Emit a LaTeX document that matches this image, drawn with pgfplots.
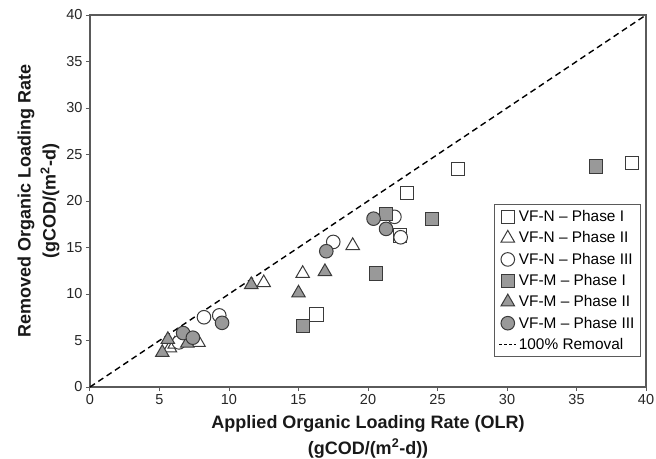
\documentclass[border=0pt]{standalone}
\usepackage{fontspec}
\setmainfont{Liberation Sans}
\usepackage{pgfplots}
\pgfplotsset{compat=1.18}
\definecolor{axgray}{HTML}{5A5A5A}
\definecolor{mgray}{HTML}{999999}
\definecolor{medge}{HTML}{3A3A3A}
\begin{document}
\begin{tikzpicture}
\begin{axis}[
  scale only axis, width=556pt, height=372pt,
  xmin=0, xmax=40, ymin=0, ymax=40,
  xtick={0,5,...,40}, ytick={0,5,...,40},
  tick align=outside, xtick pos=bottom, ytick pos=left,
  major tick length=4pt,
  axis line style={axgray, line width=1.3pt},
  tick style={axgray, line width=1pt},
  ticklabel style={font=\fontsize{14.5}{16}\selectfont, text=black!85},
  /pgf/number format/assume math mode=true,
  xlabel={Applied Organic Loading Rate (OLR)\\(gCOD/(m\textsuperscript{2}-d))},
  ylabel={Removed Organic Loading Rate\\(gCOD/(m\textsuperscript{2}-d)},
  xlabel style={font=\bfseries\fontsize{18}{25.5}\selectfont, align=center, text=black!90, yshift=-4pt},
  ylabel style={font=\bfseries\fontsize{18}{25}\selectfont, align=center, text=black!90},
  legend style={at={(rel axis cs:0.991,0.492)}, anchor=north east,
    draw=axgray, line width=1.2pt, font=\fontsize{15.4}{17}\selectfont,
    row sep=4.6pt, inner sep=4pt, legend cell align=left},
  clip=false,
]
\addplot[black, line width=1.4pt, dash pattern=on 6pt off 4pt, forget plot] coordinates {(0,0) (40,40)};

\addplot[only marks, mark=square*, mark size=6.6pt, mark options={fill=white, draw=medge, line width=1pt}] coordinates {
(16.3,7.8) (22.3,16.3) (22.8,20.9) (26.5,23.4) (39.0,24.1)};
\addlegendentry{VF-N -- Phase I}
\addplot[only marks, mark=triangle*, mark size=7.8pt, mark options={fill=white, draw=medge, line width=1pt}] coordinates {
(5.75,4.2) (6.1,4.6) (7.8,4.8) (12.5,11.2) (15.3,12.2) (18.9,15.2)};
\addlegendentry{VF-N -- Phase II}
\addplot[only marks, mark=*, mark size=6.8pt, mark options={fill=white, draw=medge, line width=1pt}] coordinates {
(6.4,4.8) (8.2,7.5) (9.3,7.7) (17.5,15.6) (21.9,18.3) (22.35,16.1)};
\addlegendentry{VF-N -- Phase III}
\addplot[only marks, mark=square*, mark size=6.6pt, mark options={fill=mgray, draw=medge, line width=1pt}] coordinates {
(15.3,6.6) (20.6,12.2) (21.3,18.6) (24.6,18.1) (36.4,23.7)};
\addlegendentry{VF-M -- Phase I}
\addplot[only marks, mark=triangle*, mark size=7.8pt, mark options={fill=mgray, draw=medge, line width=1pt}] coordinates {
(5.2,3.7) (5.6,5.1) (7.0,4.7) (11.6,11.0) (15.0,10.1) (16.9,12.4)};
\addlegendentry{VF-M -- Phase II}
\addplot[only marks, mark=*, mark size=6.8pt, mark options={fill=mgray, draw=medge, line width=1pt}] coordinates {
(6.7,5.8) (7.4,5.3) (9.5,6.9) (17.0,14.6) (20.4,18.1) (21.3,17.0)};
\addlegendentry{VF-M -- Phase III}
\addlegendimage{legend image code/.code={\draw[black, line width=1.2pt, dash pattern=on 3pt off 2pt] (0pt,0pt) -- (17pt,0pt);}}
\addlegendentry{100\% Removal}
\end{axis}
\pgfresetboundingbox
\path ([shift={(-90pt,-71pt)}]current axis.south west) rectangle ([shift={(10pt,15pt)}]current axis.north east);
\end{tikzpicture}
\end{document}
